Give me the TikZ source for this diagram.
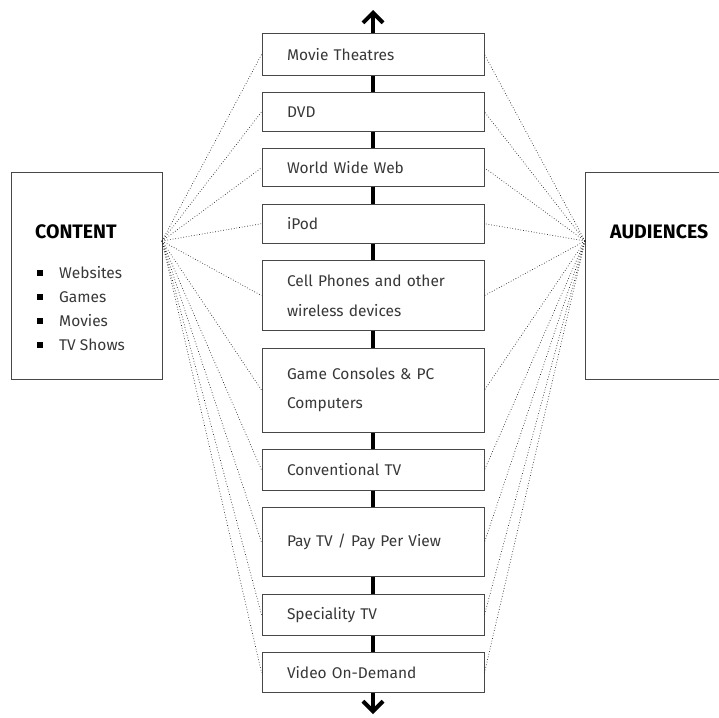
\documentclass[tikz,border=0pt]{standalone}
\usepackage{fontspec}
\setmainfont{Fira Sans}
\usepackage{tikz}
\usetikzlibrary{arrows.meta}
\usetikzlibrary{positioning}
\tikzset{
  % spine arrow tip
  >={Straight Barb[length=10pt,width=20pt]},
  panel/.style={draw=black!72, line width=1pt, fill=white},
  link/.style={draw=black!85, dotted, line width=0.7pt}
}

\begin{document}
\begin{tikzpicture}[x=1pt, y=-1pt, node distance=16.4pt]
    \useasboundingbox (0,0) rectangle (719,717);
    % Define styles
    \tikzstyle{medium} = [panel, text width=172pt, inner xsep=25pt, inner ysep=0pt, align=left, font=\fontsize{15.5}{29.5}\selectfont, text=black!78]
    \tikzstyle{heading} = [anchor=west, inner sep=0pt, font=\bfseries\fontsize{19.5}{19.5}\selectfont]
    \tikzstyle{bullet} = [fill=black, inner sep=0pt, minimum size=6.5pt]
    \tikzstyle{entry} = [anchor=west, inner sep=0pt, font=\fontsize{15.5}{15.5}\selectfont, text=black!78]
    \tikzstyle{spine} = [line width=4pt, <->]

    % Spine behind the media
    \coordinate (top) at (373,10);
    \coordinate (bottom) at (373,714);
    \draw [spine] (top) -- (bottom);

    % Media
    \node [medium, minimum height=41pt] (theatres) at (373,54.5) {Movie Theatres};
    \node [medium, minimum height=39pt, below=of theatres] (dvd) {DVD};
    \node [medium, minimum height=38pt, below=of dvd] (web) {World Wide Web};
    \node [medium, minimum height=39pt, below=of web] (ipod) {iPod};
    \node [medium, minimum height=70pt, below=of ipod] (phones) {Cell Phones and other\\wireless devices};
    \node [medium, minimum height=84pt, below=of phones] (consoles) {Game Consoles \& PC\\Computers};
    \node [medium, minimum height=41pt, below=of consoles] (tv) {Conventional TV};
    \node [medium, minimum height=69pt, below=of tv] (paytv) {Pay TV / Pay Per View};
    \node [medium, minimum height=41pt, below=of paytv] (special) {Speciality TV};
    \node [medium, minimum height=40pt, below=of special] (vod) {Video On-Demand};

    % Content
    \node [panel, minimum width=151pt, minimum height=207pt] (content) at (86.5,275.5) {};
    \node [heading] (contenttitle) at (35,232) {CONTENT};
    \foreach \what [count=\i] in {Websites, Games, Movies, TV Shows} {
        \node [bullet] (bullet\i) at (40,249+24*\i) {};
        \node [entry] (item\i) at (59,249+24*\i) {\what};
    }

    % Audiences
    \node [panel, anchor=north west, minimum width=160pt, minimum height=207pt] (audiences) at (585,172) {};
    \node [heading] (audiencestitle) at (610,232) {AUDIENCES};

    % Draw edges
    \coordinate (hubL) at (162,241);
    \coordinate (hubR) at (585,241);
    \foreach \m in {theatres, dvd, web, ipod, phones, consoles, tv, paytv, special, vod} {
        \draw [link] (hubL) -- (\m.west);
        \draw [link] (hubR) -- (\m.east);
    }
\end{tikzpicture}
\end{document}
